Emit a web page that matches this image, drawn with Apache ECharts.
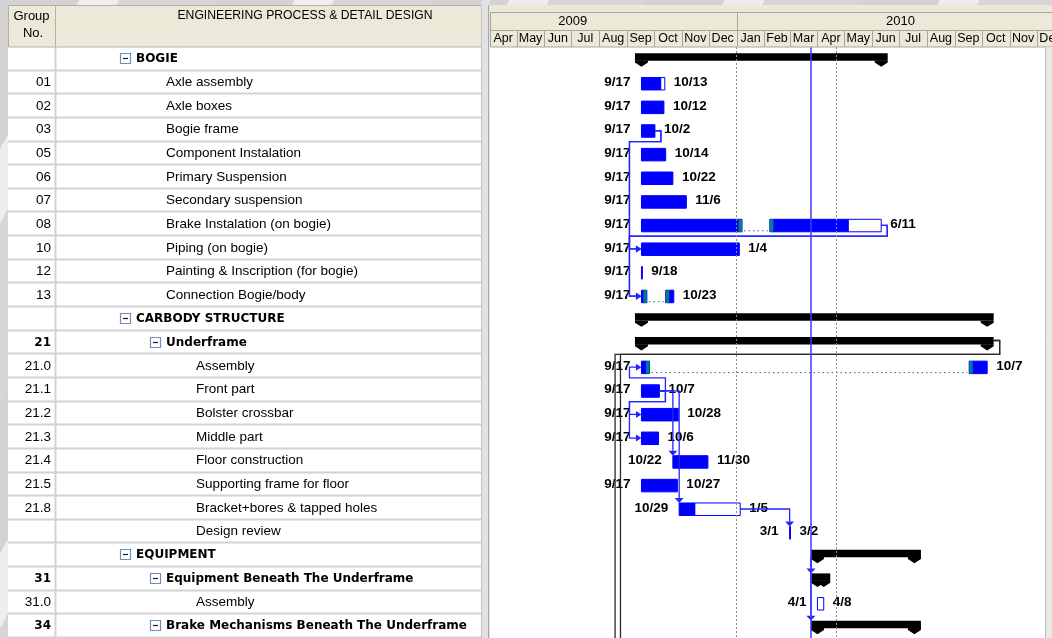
<!DOCTYPE html>
<html>
<head>
<meta charset="utf-8">
<script src="https://cdn.jsdelivr.net/npm/echarts@6/dist/echarts.min.js"></script>
<style>
  html, body { margin: 0; padding: 0; }
  body {
    background: repeating-linear-gradient(118deg, #d3d3d3 0 70px, #eeeeee 70px 105px, #d6d6d6 105px 190px);
  }
  #chart { width: 1052px; height: 638px; }
</style>
</head>
<body>
<div id="chart"></div>
<script>
// ---------- outline table ----------
const rowCodes = ['', '01', '02', '03', '05', '06', '07', '08', '10', '12', '13', '', '21', '21.0', '21.1', '21.2', '21.3', '21.4', '21.5', '21.8', '', '', '31', '31.0', '34'];
const rowNames = ['BOGIE', 'Axle assembly', 'Axle boxes', 'Bogie frame', 'Component Instalation', 'Primary Suspension',
  'Secondary suspension', 'Brake Instalation (on bogie)', 'Piping (on bogie)', 'Painting & Inscription (for bogie)',
  'Connection Bogie/body', 'CARBODY STRUCTURE', 'Underframe', 'Assembly', 'Front part', 'Bolster crossbar', 'Middle part',
  'Floor construction', 'Supporting frame for floor', 'Bracket+bores & tapped holes', 'Design review', 'EQUIPMENT',
  'Equipment Beneath The Underframe', 'Assembly', 'Brake Mechanisms Beneath The Underframe'];
const rowLevels = [1, 2, 2, 2, 2, 2, 2, 2, 2, 2, 2, 1, 2, 3, 3, 3, 3, 3, 3, 3, 3, 1, 2, 3, 2];
const summaryRows = [0, 11, 12, 21, 22, 24];

// ---------- schedule ----------
const taskStart = ['2009-09-17',
  '2009-09-17', '2009-09-17', '2009-09-17', '2009-09-17', '2009-09-17', '2009-09-17', '2009-09-17', '2009-09-17', '2009-09-17', '2009-09-17',
  '2009-09-17', '2009-09-17',
  '2009-09-17', '2009-09-17', '2009-09-17', '2009-09-17', '2009-10-22', '2009-09-17', '2009-10-29', '2010-03-01',
  '2010-04-01', '2010-04-01', '2010-04-01', '2010-04-01'];
const taskFinish = ['2010-06-11',
  '2009-10-13', '2009-10-12', '2009-10-02', '2009-10-14', '2009-10-22', '2009-11-06', '2010-06-11', '2010-01-04', '2009-09-18', '2009-10-23',
  '2010-10-07', '2010-10-07',
  '2010-10-07', '2009-10-07', '2009-10-28', '2009-10-06', '2009-11-30', '2009-10-27', '2010-01-05', '2010-03-02',
  '2010-07-18', '2010-04-08', '2010-04-08', '2010-07-18'];
// work completed through ('' = not started / summary)
const taskDone = ['',
  '2009-10-09', '2009-10-12', '2009-10-02', '2009-10-14', '2009-10-22', '2009-11-06', '2010-05-06', '2010-01-04', '2009-09-18', '2009-10-23',
  '', '',
  '2010-10-07', '2009-10-07', '2009-10-28', '2009-10-06', '2009-11-30', '2009-10-27', '2009-11-16', '2010-03-02',
  '', '', '', ''];
// split tasks: idle gap inside the bar
const splitRows = [7, 10, 13];
const splitGapFrom = ['2010-01-07', '2009-09-23', '2009-09-26'];
const splitGapTo = ['2010-02-07', '2009-10-14', '2010-09-17'];
// tasks further down the plan (below the visible rows)
const belowRows = [25, 26];
const belowRowStart = ['2009-09-01', '2009-09-07'];
// dependencies
const linkFrom = [3, 3, 7, 7, 14, 14, 14, 14, 14, 19, 21, 21, 12, 12];
const linkTo = [8, 10, 8, 10, 13, 15, 16, 17, 19, 20, 22, 24, 25, 26];
const linkType = ['FS', 'FS', 'FS', 'FS', 'FS', 'FS', 'FS', 'FS', 'FS', 'FS', 'SS', 'SS', 'FS', 'FS'];
// timescale
const monthLabels = ['Apr', 'May', 'Jun', 'Jul', 'Aug', 'Sep', 'Oct', 'Nov', 'Dec', 'Jan', 'Feb', 'Mar', 'Apr', 'May', 'Jun', 'Jul', 'Aug', 'Sep', 'Oct', 'Nov', 'Dec'];
const monthStarts = ['2009-04-01', '2009-05-01', '2009-06-01', '2009-07-01', '2009-08-01', '2009-09-01', '2009-10-01', '2009-11-01', '2009-12-01',
  '2010-01-01', '2010-02-01', '2010-03-01', '2010-04-01', '2010-05-01', '2010-06-01', '2010-07-01', '2010-08-01', '2010-09-01', '2010-10-01', '2010-11-01', '2010-12-01', '2011-01-01'];
const yearLabels = ['2009', '2010'];
const yearStarts = ['2009-01-01', '2010-01-01', '2011-01-01'];
const statusLines = ['2010-01-01', '2010-04-22'];
const currentDate = '2010-03-25';

// ---------- helpers ----------
const T = s => Date.UTC(+s.slice(0, 4), +s.slice(5, 7) - 1, +s.slice(8, 10));
const md = s => (+s.slice(5, 7)) + '/' + (+s.slice(8, 10));
const DAY = 86400000;
const AXIS_MIN = T('2009-04-01');
const AXIS_MAX = AXIS_MIN + 626.2 * DAY;
const BLUE = '#0000ff';
const TEAL = '#008080';
const LABEL_FONT = { fontFamily: 'Liberation Sans', fontWeight: 'bold', fontSize: 13.5, fill: '#000' };
const isSummary = r => summaryRows.indexOf(r) >= 0;
const rowIdx = rowNames.map((_, i) => i);

// ---------- table rows ----------
function renderRow(params, api) {
  const row = params.dataIndex;
  const c = api.coord([0.5, row])[1];
  const h = api.size([0, 1])[1];
  const L = params.coordSys.x, R = L + params.coordSys.width;
  const yb = Math.round(c + h / 2) - 0.5;
  const sum = isSummary(row);
  const tx = L + 128 + (rowLevels[row] - 1) * 30;
  const kids = [
    { type: 'line', shape: { x1: L, y1: yb, x2: R, y2: yb }, style: { stroke: '#d2d2d2', lineWidth: 2 } },
    { type: 'line', shape: { x1: L + 47.5, y1: c - h / 2, x2: L + 47.5, y2: c + h / 2 }, style: { stroke: '#d2d2d2', lineWidth: 2 } },
    { type: 'text', style: { text: rowCodes[row], x: L + 43, y: c, align: 'right', verticalAlign: 'middle',
        fontFamily: sum ? 'DejaVu Sans' : 'Liberation Sans', fontWeight: sum ? 'bold' : 'normal', fontSize: sum ? 12 : 13.5, fill: '#000' } },
    { type: 'text', style: { text: rowNames[row], x: tx, y: c, align: 'left', verticalAlign: 'middle',
        fontFamily: sum ? 'DejaVu Sans' : 'Liberation Sans', fontWeight: sum ? 'bold' : 'normal', fontSize: sum ? 12 : 13.5, fill: '#000' } }
  ];
  if (sum) {
    const ix = Math.round(tx - 16.5) + 0.5, iy = Math.round(c - 6) + 0.5;
    kids.push({ type: 'rect', shape: { x: ix, y: iy, width: 10, height: 10 }, style: { fill: '#fff', stroke: '#6f8fbf', lineWidth: 1.2 } });
    kids.push({ type: 'line', shape: { x1: ix + 2.5, y1: iy + 5, x2: ix + 7.5, y2: iy + 5 }, style: { stroke: '#1a1a1a', lineWidth: 1.2 } });
  }
  return { type: 'group', children: kids };
}

// ---------- bars ----------
function renderTask(params, api) {
  const row = api.value(2);
  const s0 = api.value(0), s1 = api.value(1);
  const c = api.coord([s0, row])[1];
  const X = t => api.coord([t, row])[0];
  const xs = X(s0), xe = X(s1);
  const kids = [];
  if (isSummary(row)) {
    kids.push({ type: 'rect', shape: { x: xs - 6.5, y: c - 5.5, width: xe - xs + 13, height: 7.5 }, style: { fill: '#000' } });
    [xs, xe].forEach(x => kids.push({ type: 'polygon',
      shape: { points: [[x - 6.5, c + 1.8], [x - 6.5, c + 3.8], [x, c + 8], [x + 6.5, c + 3.8], [x + 6.5, c + 1.8]] },
      style: { fill: '#000' } }));
    return { type: 'group', children: kids };
  }
  const k = splitRows.indexOf(row);
  const segs = k < 0 ? [[s0, s1]] : [[s0, T(splitGapFrom[k])], [T(splitGapTo[k]), s1]];
  const done = taskDone[row] ? T(taskDone[row]) : null;
  const top = c - 5, h = 12.5;
  segs.forEach(([a, b]) => {
    const x0 = X(a), x1 = X(b);
    kids.push({ type: 'rect', shape: { x: x0, y: top, width: Math.max(x1 - x0, 0.8), height: h },
      style: { fill: '#fff', stroke: BLUE, lineWidth: 1 } });
    if (done !== null && done > a) {
      const xd = X(Math.min(done, b));
      kids.push({ type: 'rect', shape: { x: x0, y: top, width: Math.max(xd - x0, 0.8), height: h }, style: { fill: BLUE } });
    }
  });
  if (k >= 0) {
    const g0 = X(T(splitGapFrom[k])), g1 = X(T(splitGapTo[k]));
    kids.push({ type: 'rect', shape: { x: g0 - 3.5, y: top, width: 3.5, height: h }, style: { fill: TEAL } });
    kids.push({ type: 'rect', shape: { x: g1, y: top, width: 3.5, height: h }, style: { fill: TEAL } });
    kids.push({ type: 'line', shape: { x1: g0 + 2, y1: c + 6.5, x2: g1 - 2, y2: c + 6.5 },
      style: { stroke: '#555a7a', lineWidth: 1, lineDash: [1.5, 3] } });
  }
  kids.push({ type: 'text', style: Object.assign({ text: md(taskStart[row]), x: xs - 11, y: c, align: 'right', verticalAlign: 'middle' }, LABEL_FONT) });
  kids.push({ type: 'text', style: Object.assign({ text: md(taskFinish[row]), x: xe + 9, y: c, align: 'left', verticalAlign: 'middle' }, LABEL_FONT) });
  return { type: 'group', children: kids };
}

// ---------- dependency lines ----------
function renderLink(params, api) {
  const i = params.dataIndex;
  const p = linkFrom[i], q = linkTo[i];
  const pitch = api.size([0, 1])[1];
  const y0 = api.coord([AXIS_MIN, 0])[1];
  const rowY = r => y0 + r * pitch;
  const X = t => api.coord([t, 0])[0];
  const pSum = isSummary(p), qSum = isSummary(q);
  const qStart = q < rowNames.length ? taskStart[q] : belowRowStart[belowRows.indexOf(q)];
  const xs = X(T(qStart)) - (qSum ? 6.5 : 0);
  const color = pSum && linkType[i] === 'FS' ? '#2a2a2a' : '#2323ff';
  const st = { stroke: color, lineWidth: 1.3, fill: null };
  const kids = [];
  const yq = rowY(q) + 1;
  if (linkType[i] === 'SS') {
    const topQ = rowY(q) - 5.5;
    kids.push({ type: 'polyline', shape: { points: [[xs, rowY(p) + 1.5], [xs, topQ - 5]] }, style: st });
    kids.push({ type: 'polygon', shape: { points: [[xs - 4.5, topQ - 5], [xs + 4.5, topQ - 5], [xs, topQ]] }, style: { fill: color } });
    return { type: 'group', children: kids };
  }
  const xe = X(T(taskFinish[p])) + (pSum ? 6.5 : 0);
  const yp = rowY(p) + (pSum ? -2 : 1);
  if (xs >= xe + 5) {
    const topQ = rowY(q) - 5;
    kids.push({ type: 'polyline', shape: { points: [[xe, yp], [xs, yp], [xs, topQ - 5]] }, style: st });
    kids.push({ type: 'polygon', shape: { points: [[xs - 4.5, topQ - 5], [xs + 4.5, topQ - 5], [xs, topQ]] }, style: { fill: color } });
  } else {
    const yb = q > p ? rowY(p) + pitch / 2 : rowY(p) - pitch / 2;
    kids.push({ type: 'polyline', shape: { points: [[xe, yp], [xe + 6, yp], [xe + 6, yb], [xs - 12, yb], [xs - 12, yq], [xs - 5, yq]] }, style: st });
    kids.push({ type: 'polygon', shape: { points: [[xs - 5.5, yq - 3.5], [xs - 5.5, yq + 3.5], [xs, yq]] }, style: { fill: color } });
  }
  return { type: 'group', children: kids };
}

// ---------- timescale header ----------
function headerCell(labels, starts, y, hgt, textY, size) {
  return function (params, api) {
    const i = params.dataIndex;
    const x0 = api.coord([T(starts[i]), 0])[0];
    const x1 = api.coord([T(starts[i + 1]), 0])[0];
    const L = params.coordSys.x, R = L + params.coordSys.width;
    const a = Math.max(Math.round(x0), Math.round(L)) + 0.5;
    const b = Math.min(Math.round(x1), R + 30) + 0.5;
    return { type: 'group', children: [
      { type: 'rect', shape: { x: a, y: y, width: b - a, height: hgt }, style: { fill: '#ece9d8', stroke: '#a9a697', lineWidth: 1 } },
      { type: 'text', style: { text: labels[i], x: (x0 + x1) / 2, y: textY, align: 'center', verticalAlign: 'middle',
          fontFamily: 'Liberation Sans', fontSize: size, fill: '#000' } }
    ] };
  };
}

const chart = echarts.init(document.getElementById('chart'), null, { renderer: 'canvas' });
chart.setOption({
  animation: false,
  backgroundColor: 'transparent',
  grid: [
    { left: 8, top: 47, width: 474, height: 591, show: true, backgroundColor: '#fff', borderWidth: 0, containLabel: false, outerBoundsMode: 'none' },
    { left: 489.7, top: 47, right: 0, height: 591, show: true, backgroundColor: '#fff', borderWidth: 0, containLabel: false, outerBoundsMode: 'none' }
  ],
  xAxis: [
    { type: 'value', gridIndex: 0, min: 0, max: 1, show: false },
    { type: 'time', gridIndex: 1, min: AXIS_MIN, max: AXIS_MAX, show: false }
  ],
  yAxis: [
    { type: 'category', gridIndex: 0, data: rowIdx, inverse: true, show: false },
    { type: 'category', gridIndex: 1, data: rowIdx, inverse: true, show: false }
  ],
  graphic: [
    // table header
    { type: 'rect', z: 50, shape: { x: 8.5, y: 5.5, width: 473, height: 41.5 }, style: { fill: '#ece9d8', stroke: '#b5b2a3', lineWidth: 1 } },
    { type: 'line', z: 51, shape: { x1: 55.5, y1: 5.5, x2: 55.5, y2: 47 }, style: { stroke: '#b5b2a3', lineWidth: 1 } },
    { type: 'text', z: 52, style: { text: 'Group', x: 31.5, y: 16, align: 'center', verticalAlign: 'middle', fontFamily: 'Liberation Sans', fontSize: 13, fill: '#000' } },
    { type: 'text', z: 52, style: { text: 'No.', x: 33, y: 33, align: 'center', verticalAlign: 'middle', fontFamily: 'Liberation Sans', fontSize: 13, fill: '#000' } },
    { type: 'text', z: 52, style: { text: 'ENGINEERING PROCESS & DETAIL DESIGN', x: 305, y: 16, align: 'center', verticalAlign: 'middle', fontFamily: 'Liberation Sans', fontSize: 12.2, fill: '#000' } },
    // splitter between table and chart
    { type: 'rect', z: 50, shape: { x: 482, y: 0, width: 7.7, height: 638 }, style: { fill: '#e2e2e2' } },
    { type: 'line', z: 51, shape: { x1: 481.5, y1: 5, x2: 481.5, y2: 638 }, style: { stroke: '#c4c4c4', lineWidth: 1 } },
    { type: 'line', z: 51, shape: { x1: 488.5, y1: 5, x2: 488.5, y2: 638 }, style: { stroke: '#a9a9a9', lineWidth: 1 } },
    // timescale header backdrop
    { type: 'rect', z: 0, shape: { x: 489.7, y: 5, width: 563, height: 42 }, style: { fill: '#ece9d8' } },
    // right edge strip
    { type: 'rect', z: 50, shape: { x: 1046, y: 47, width: 6, height: 591 }, style: { fill: '#e8e8e8' } },
    { type: 'line', z: 51, shape: { x1: 1045.5, y1: 47, x2: 1045.5, y2: 638 }, style: { stroke: '#bdbdbd', lineWidth: 1 } }
  ],
  series: [
    { type: 'custom', name: 'table', xAxisIndex: 0, yAxisIndex: 0, clip: false, z: 2,
      data: rowIdx.map(i => [0.5, i]), encode: { x: 0, y: 1 }, renderItem: renderRow },
    { type: 'custom', name: 'years', xAxisIndex: 1, yAxisIndex: 1, clip: false, z: 5,
      data: yearLabels.map((_, i) => [T(yearStarts[i]), T(yearStarts[i + 1]), 0]), encode: { x: [0, 1], y: 2 },
      renderItem: headerCell(yearLabels, yearStarts, 12.5, 18, 21.5, 13) },
    { type: 'custom', name: 'months', xAxisIndex: 1, yAxisIndex: 1, clip: false, z: 5,
      data: monthLabels.map((_, i) => [T(monthStarts[i]), T(monthStarts[i + 1]), 0]), encode: { x: [0, 1], y: 2 },
      renderItem: headerCell(monthLabels, monthStarts, 30.5, 16.5, 39, 12.5) },
    { type: 'line', name: 'status', xAxisIndex: 1, yAxisIndex: 1, data: [], z: 1, silent: true,
      markLine: { symbol: 'none', silent: true, label: { show: false },
        data: statusLines.map(d => ({ xAxis: T(d), lineStyle: { type: [2, 2], color: '#8a8a8a', width: 1 } })) } },
    { type: 'custom', name: 'tasks', xAxisIndex: 1, yAxisIndex: 1, clip: true, z: 3,
      data: rowIdx.map(i => [T(taskStart[i]), T(taskFinish[i]), i]), encode: { x: [0, 1], y: 2 }, renderItem: renderTask },
    { type: 'custom', name: 'links', xAxisIndex: 1, yAxisIndex: 1, clip: true, z: 4,
      data: linkFrom.map((p) => [T(taskStart[p]), p]), encode: { x: 0, y: 1 }, renderItem: renderLink },
    { type: 'line', name: 'current', xAxisIndex: 1, yAxisIndex: 1, data: [], z: 6, silent: true,
      markLine: { symbol: 'none', silent: true, label: { show: false },
        data: [{ xAxis: T(currentDate), lineStyle: { type: 'solid', color: '#3b3bff', width: 1.5 } }] } }
  ]
});
</script>
</body>
</html>
